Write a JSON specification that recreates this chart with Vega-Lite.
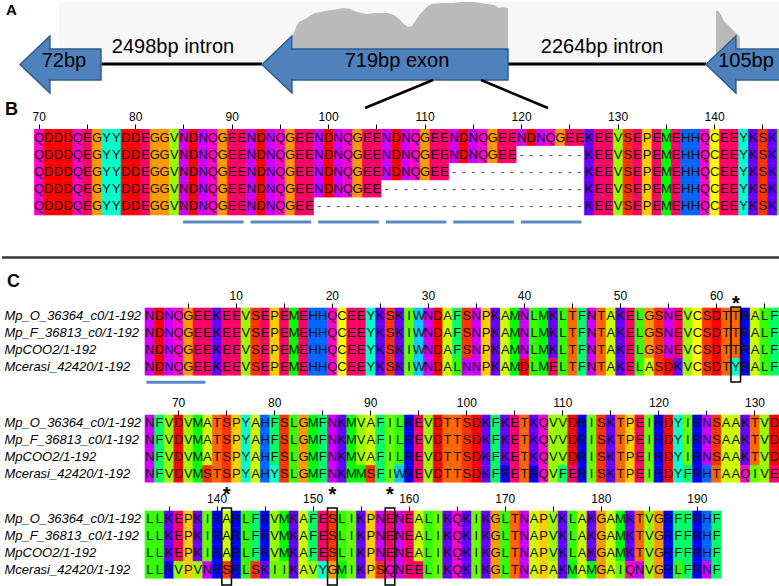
{
"$schema":"https://vega.github.io/schema/vega-lite/v6.json",
"padding":0,"spacing":0,"bounds":"flush","background":"white",
"config":{"view":{"stroke":null},"font":"Liberation Sans"},
"datasets":{
"names":[{"q":1,"name":"Mp_O_36364_c0/1-192"},{"q":2,"name":"Mp_F_36813_c0/1-192"},{"q":3,"name":"MpCOO2/1-192"},{"q":4,"name":"Mcerasi_42420/1-192"}],
"hl":[{"p":62},{"p":141},{"p":152},{"p":158}],
"bl":[{"start":85,"end":91},{"start":92,"end":98},{"start":99,"end":105},{"start":106,"end":112},{"start":113,"end":119},{"start":120,"end":126}],
"cov":[{"seg":"L","x":291,"d":29},{"seg":"L","x":294,"d":37},{"seg":"L","x":297,"d":42},{"seg":"L","x":301,"d":44},{"seg":"L","x":305,"d":46},{"seg":"L","x":309,"d":49},{"seg":"L","x":313,"d":51},{"seg":"L","x":318,"d":52},{"seg":"L","x":323,"d":53},{"seg":"L","x":330,"d":54},{"seg":"L","x":336,"d":55},{"seg":"L","x":342,"d":56},{"seg":"L","x":348,"d":55},{"seg":"L","x":355,"d":52},{"seg":"L","x":360,"d":51},{"seg":"L","x":365,"d":50},{"seg":"L","x":372,"d":51},{"seg":"L","x":380,"d":51},{"seg":"L","x":386,"d":51},{"seg":"L","x":392,"d":49},{"seg":"L","x":397,"d":45},{"seg":"L","x":402,"d":40},{"seg":"L","x":406,"d":37},{"seg":"L","x":410,"d":38},{"seg":"L","x":414,"d":44},{"seg":"L","x":418,"d":50},{"seg":"L","x":422,"d":54},{"seg":"L","x":426,"d":58},{"seg":"L","x":430,"d":60},{"seg":"L","x":440,"d":61},{"seg":"L","x":450,"d":61},{"seg":"L","x":460,"d":62},{"seg":"L","x":470,"d":62},{"seg":"L","x":478,"d":61},{"seg":"L","x":486,"d":60},{"seg":"L","x":492,"d":59},{"seg":"L","x":497,"d":56},{"seg":"L","x":501,"d":57},{"seg":"L","x":506,"d":56},
{"seg":"R","x":714,"d":54},{"seg":"R","x":716,"d":53},{"seg":"R","x":719,"d":49},{"seg":"R","x":722,"d":43},{"seg":"R","x":726,"d":39},{"seg":"R","x":730,"d":35},{"seg":"R","x":734,"d":31},{"seg":"R","x":738,"d":27}],
"exons":[{"name":"72bp","tip":18,"neck":47,"end":99,"mid":62},{"name":"719bp exon","tip":260,"neck":290,"end":506,"mid":395},{"name":"105bp","tip":704,"neck":735,"end":800,"mid":744}],
"introns":[{"name":"2498bp intron","from":99,"to":260,"mid":171},{"name":"2264bp intron","from":506,"to":704,"mid":600}],
"links":[{"x1":431,"x2":363},{"x1":479,"x2":546}],
"b":[
{"s":1,"p":70,"a":"Q"},{"s":1,"p":71,"a":"D"},{"s":1,"p":72,"a":"D"},{"s":1,"p":73,"a":"D"},{"s":1,"p":74,"a":"Q"},{"s":1,"p":75,"a":"E"},{"s":1,"p":76,"a":"G"},{"s":1,"p":77,"a":"Y"},{"s":1,"p":78,"a":"Y"},{"s":1,"p":79,"a":"D"},{"s":1,"p":80,"a":"D"},{"s":1,"p":81,"a":"E"},{"s":1,"p":82,"a":"G"},{"s":1,"p":83,"a":"G"},{"s":1,"p":84,"a":"V"},{"s":1,"p":85,"a":"N"},{"s":1,"p":86,"a":"D"},{"s":1,"p":87,"a":"N"},{"s":1,"p":88,"a":"Q"},{"s":1,"p":89,"a":"G"},{"s":1,"p":90,"a":"E"},{"s":1,"p":91,"a":"E"},{"s":1,"p":92,"a":"N"},{"s":1,"p":93,"a":"D"},{"s":1,"p":94,"a":"N"},{"s":1,"p":95,"a":"Q"},{"s":1,"p":96,"a":"G"},{"s":1,"p":97,"a":"E"},{"s":1,"p":98,"a":"E"},{"s":1,"p":99,"a":"N"},{"s":1,"p":100,"a":"D"},{"s":1,"p":101,"a":"N"},{"s":1,"p":102,"a":"Q"},{"s":1,"p":103,"a":"G"},{"s":1,"p":104,"a":"E"},{"s":1,"p":105,"a":"E"},{"s":1,"p":106,"a":"N"},{"s":1,"p":107,"a":"D"},{"s":1,"p":108,"a":"N"},{"s":1,"p":109,"a":"Q"},{"s":1,"p":110,"a":"G"},{"s":1,"p":111,"a":"E"},{"s":1,"p":112,"a":"E"},{"s":1,"p":113,"a":"N"},{"s":1,"p":114,"a":"D"},{"s":1,"p":115,"a":"N"},{"s":1,"p":116,"a":"Q"},{"s":1,"p":117,"a":"G"},{"s":1,"p":118,"a":"E"},{"s":1,"p":119,"a":"E"},{"s":1,"p":120,"a":"N"},{"s":1,"p":121,"a":"D"},{"s":1,"p":122,"a":"N"},{"s":1,"p":123,"a":"Q"},{"s":1,"p":124,"a":"G"},{"s":1,"p":125,"a":"E"},{"s":1,"p":126,"a":"E"},{"s":1,"p":127,"a":"K"},{"s":1,"p":128,"a":"E"},{"s":1,"p":129,"a":"E"},{"s":1,"p":130,"a":"V"},{"s":1,"p":131,"a":"S"},{"s":1,"p":132,"a":"E"},{"s":1,"p":133,"a":"P"},{"s":1,"p":134,"a":"E"},{"s":1,"p":135,"a":"M"},{"s":1,"p":136,"a":"E"},{"s":1,"p":137,"a":"H"},{"s":1,"p":138,"a":"H"},{"s":1,"p":139,"a":"Q"},{"s":1,"p":140,"a":"C"},{"s":1,"p":141,"a":"E"},{"s":1,"p":142,"a":"E"},{"s":1,"p":143,"a":"Y"},{"s":1,"p":144,"a":"K"},{"s":1,"p":145,"a":"S"},{"s":1,"p":146,"a":"K"},{"s":1,"p":147,"a":"I"},
{"s":2,"p":70,"a":"Q"},{"s":2,"p":71,"a":"D"},{"s":2,"p":72,"a":"D"},{"s":2,"p":73,"a":"D"},{"s":2,"p":74,"a":"Q"},{"s":2,"p":75,"a":"E"},{"s":2,"p":76,"a":"G"},{"s":2,"p":77,"a":"Y"},{"s":2,"p":78,"a":"Y"},{"s":2,"p":79,"a":"D"},{"s":2,"p":80,"a":"D"},{"s":2,"p":81,"a":"E"},{"s":2,"p":82,"a":"G"},{"s":2,"p":83,"a":"G"},{"s":2,"p":84,"a":"V"},{"s":2,"p":85,"a":"N"},{"s":2,"p":86,"a":"D"},{"s":2,"p":87,"a":"N"},{"s":2,"p":88,"a":"Q"},{"s":2,"p":89,"a":"G"},{"s":2,"p":90,"a":"E"},{"s":2,"p":91,"a":"E"},{"s":2,"p":92,"a":"N"},{"s":2,"p":93,"a":"D"},{"s":2,"p":94,"a":"N"},{"s":2,"p":95,"a":"Q"},{"s":2,"p":96,"a":"G"},{"s":2,"p":97,"a":"E"},{"s":2,"p":98,"a":"E"},{"s":2,"p":99,"a":"N"},{"s":2,"p":100,"a":"D"},{"s":2,"p":101,"a":"N"},{"s":2,"p":102,"a":"Q"},{"s":2,"p":103,"a":"G"},{"s":2,"p":104,"a":"E"},{"s":2,"p":105,"a":"E"},{"s":2,"p":106,"a":"N"},{"s":2,"p":107,"a":"D"},{"s":2,"p":108,"a":"N"},{"s":2,"p":109,"a":"Q"},{"s":2,"p":110,"a":"G"},{"s":2,"p":111,"a":"E"},{"s":2,"p":112,"a":"E"},{"s":2,"p":113,"a":"N"},{"s":2,"p":114,"a":"D"},{"s":2,"p":115,"a":"N"},{"s":2,"p":116,"a":"Q"},{"s":2,"p":117,"a":"G"},{"s":2,"p":118,"a":"E"},{"s":2,"p":119,"a":"E"},{"s":2,"p":120,"a":"-"},{"s":2,"p":121,"a":"-"},{"s":2,"p":122,"a":"-"},{"s":2,"p":123,"a":"-"},{"s":2,"p":124,"a":"-"},{"s":2,"p":125,"a":"-"},{"s":2,"p":126,"a":"-"},{"s":2,"p":127,"a":"K"},{"s":2,"p":128,"a":"E"},{"s":2,"p":129,"a":"E"},{"s":2,"p":130,"a":"V"},{"s":2,"p":131,"a":"S"},{"s":2,"p":132,"a":"E"},{"s":2,"p":133,"a":"P"},{"s":2,"p":134,"a":"E"},{"s":2,"p":135,"a":"M"},{"s":2,"p":136,"a":"E"},{"s":2,"p":137,"a":"H"},{"s":2,"p":138,"a":"H"},{"s":2,"p":139,"a":"Q"},{"s":2,"p":140,"a":"C"},{"s":2,"p":141,"a":"E"},{"s":2,"p":142,"a":"E"},{"s":2,"p":143,"a":"Y"},{"s":2,"p":144,"a":"K"},{"s":2,"p":145,"a":"S"},{"s":2,"p":146,"a":"K"},{"s":2,"p":147,"a":"I"},
{"s":3,"p":70,"a":"Q"},{"s":3,"p":71,"a":"D"},{"s":3,"p":72,"a":"D"},{"s":3,"p":73,"a":"D"},{"s":3,"p":74,"a":"Q"},{"s":3,"p":75,"a":"E"},{"s":3,"p":76,"a":"G"},{"s":3,"p":77,"a":"Y"},{"s":3,"p":78,"a":"Y"},{"s":3,"p":79,"a":"D"},{"s":3,"p":80,"a":"D"},{"s":3,"p":81,"a":"E"},{"s":3,"p":82,"a":"G"},{"s":3,"p":83,"a":"G"},{"s":3,"p":84,"a":"V"},{"s":3,"p":85,"a":"N"},{"s":3,"p":86,"a":"D"},{"s":3,"p":87,"a":"N"},{"s":3,"p":88,"a":"Q"},{"s":3,"p":89,"a":"G"},{"s":3,"p":90,"a":"E"},{"s":3,"p":91,"a":"E"},{"s":3,"p":92,"a":"N"},{"s":3,"p":93,"a":"D"},{"s":3,"p":94,"a":"N"},{"s":3,"p":95,"a":"Q"},{"s":3,"p":96,"a":"G"},{"s":3,"p":97,"a":"E"},{"s":3,"p":98,"a":"E"},{"s":3,"p":99,"a":"N"},{"s":3,"p":100,"a":"D"},{"s":3,"p":101,"a":"N"},{"s":3,"p":102,"a":"Q"},{"s":3,"p":103,"a":"G"},{"s":3,"p":104,"a":"E"},{"s":3,"p":105,"a":"E"},{"s":3,"p":106,"a":"N"},{"s":3,"p":107,"a":"D"},{"s":3,"p":108,"a":"N"},{"s":3,"p":109,"a":"Q"},{"s":3,"p":110,"a":"G"},{"s":3,"p":111,"a":"E"},{"s":3,"p":112,"a":"E"},{"s":3,"p":113,"a":"-"},{"s":3,"p":114,"a":"-"},{"s":3,"p":115,"a":"-"},{"s":3,"p":116,"a":"-"},{"s":3,"p":117,"a":"-"},{"s":3,"p":118,"a":"-"},{"s":3,"p":119,"a":"-"},{"s":3,"p":120,"a":"-"},{"s":3,"p":121,"a":"-"},{"s":3,"p":122,"a":"-"},{"s":3,"p":123,"a":"-"},{"s":3,"p":124,"a":"-"},{"s":3,"p":125,"a":"-"},{"s":3,"p":126,"a":"-"},{"s":3,"p":127,"a":"K"},{"s":3,"p":128,"a":"E"},{"s":3,"p":129,"a":"E"},{"s":3,"p":130,"a":"V"},{"s":3,"p":131,"a":"S"},{"s":3,"p":132,"a":"E"},{"s":3,"p":133,"a":"P"},{"s":3,"p":134,"a":"E"},{"s":3,"p":135,"a":"M"},{"s":3,"p":136,"a":"E"},{"s":3,"p":137,"a":"H"},{"s":3,"p":138,"a":"H"},{"s":3,"p":139,"a":"Q"},{"s":3,"p":140,"a":"C"},{"s":3,"p":141,"a":"E"},{"s":3,"p":142,"a":"E"},{"s":3,"p":143,"a":"Y"},{"s":3,"p":144,"a":"K"},{"s":3,"p":145,"a":"S"},{"s":3,"p":146,"a":"K"},{"s":3,"p":147,"a":"I"},
{"s":4,"p":70,"a":"Q"},{"s":4,"p":71,"a":"D"},{"s":4,"p":72,"a":"D"},{"s":4,"p":73,"a":"D"},{"s":4,"p":74,"a":"Q"},{"s":4,"p":75,"a":"E"},{"s":4,"p":76,"a":"G"},{"s":4,"p":77,"a":"Y"},{"s":4,"p":78,"a":"Y"},{"s":4,"p":79,"a":"D"},{"s":4,"p":80,"a":"D"},{"s":4,"p":81,"a":"E"},{"s":4,"p":82,"a":"G"},{"s":4,"p":83,"a":"G"},{"s":4,"p":84,"a":"V"},{"s":4,"p":85,"a":"N"},{"s":4,"p":86,"a":"D"},{"s":4,"p":87,"a":"N"},{"s":4,"p":88,"a":"Q"},{"s":4,"p":89,"a":"G"},{"s":4,"p":90,"a":"E"},{"s":4,"p":91,"a":"E"},{"s":4,"p":92,"a":"N"},{"s":4,"p":93,"a":"D"},{"s":4,"p":94,"a":"N"},{"s":4,"p":95,"a":"Q"},{"s":4,"p":96,"a":"G"},{"s":4,"p":97,"a":"E"},{"s":4,"p":98,"a":"E"},{"s":4,"p":99,"a":"N"},{"s":4,"p":100,"a":"D"},{"s":4,"p":101,"a":"N"},{"s":4,"p":102,"a":"Q"},{"s":4,"p":103,"a":"G"},{"s":4,"p":104,"a":"E"},{"s":4,"p":105,"a":"E"},{"s":4,"p":106,"a":"-"},{"s":4,"p":107,"a":"-"},{"s":4,"p":108,"a":"-"},{"s":4,"p":109,"a":"-"},{"s":4,"p":110,"a":"-"},{"s":4,"p":111,"a":"-"},{"s":4,"p":112,"a":"-"},{"s":4,"p":113,"a":"-"},{"s":4,"p":114,"a":"-"},{"s":4,"p":115,"a":"-"},{"s":4,"p":116,"a":"-"},{"s":4,"p":117,"a":"-"},{"s":4,"p":118,"a":"-"},{"s":4,"p":119,"a":"-"},{"s":4,"p":120,"a":"-"},{"s":4,"p":121,"a":"-"},{"s":4,"p":122,"a":"-"},{"s":4,"p":123,"a":"-"},{"s":4,"p":124,"a":"-"},{"s":4,"p":125,"a":"-"},{"s":4,"p":126,"a":"-"},{"s":4,"p":127,"a":"K"},{"s":4,"p":128,"a":"E"},{"s":4,"p":129,"a":"E"},{"s":4,"p":130,"a":"V"},{"s":4,"p":131,"a":"S"},{"s":4,"p":132,"a":"E"},{"s":4,"p":133,"a":"P"},{"s":4,"p":134,"a":"E"},{"s":4,"p":135,"a":"M"},{"s":4,"p":136,"a":"E"},{"s":4,"p":137,"a":"H"},{"s":4,"p":138,"a":"H"},{"s":4,"p":139,"a":"Q"},{"s":4,"p":140,"a":"C"},{"s":4,"p":141,"a":"E"},{"s":4,"p":142,"a":"E"},{"s":4,"p":143,"a":"Y"},{"s":4,"p":144,"a":"K"},{"s":4,"p":145,"a":"S"},{"s":4,"p":146,"a":"K"},{"s":4,"p":147,"a":"I"},
{"s":5,"p":70,"a":"Q"},{"s":5,"p":71,"a":"D"},{"s":5,"p":72,"a":"D"},{"s":5,"p":73,"a":"D"},{"s":5,"p":74,"a":"Q"},{"s":5,"p":75,"a":"E"},{"s":5,"p":76,"a":"G"},{"s":5,"p":77,"a":"Y"},{"s":5,"p":78,"a":"Y"},{"s":5,"p":79,"a":"D"},{"s":5,"p":80,"a":"D"},{"s":5,"p":81,"a":"E"},{"s":5,"p":82,"a":"G"},{"s":5,"p":83,"a":"G"},{"s":5,"p":84,"a":"V"},{"s":5,"p":85,"a":"N"},{"s":5,"p":86,"a":"D"},{"s":5,"p":87,"a":"N"},{"s":5,"p":88,"a":"Q"},{"s":5,"p":89,"a":"G"},{"s":5,"p":90,"a":"E"},{"s":5,"p":91,"a":"E"},{"s":5,"p":92,"a":"N"},{"s":5,"p":93,"a":"D"},{"s":5,"p":94,"a":"N"},{"s":5,"p":95,"a":"Q"},{"s":5,"p":96,"a":"G"},{"s":5,"p":97,"a":"E"},{"s":5,"p":98,"a":"E"},{"s":5,"p":99,"a":"-"},{"s":5,"p":100,"a":"-"},{"s":5,"p":101,"a":"-"},{"s":5,"p":102,"a":"-"},{"s":5,"p":103,"a":"-"},{"s":5,"p":104,"a":"-"},{"s":5,"p":105,"a":"-"},{"s":5,"p":106,"a":"-"},{"s":5,"p":107,"a":"-"},{"s":5,"p":108,"a":"-"},{"s":5,"p":109,"a":"-"},{"s":5,"p":110,"a":"-"},{"s":5,"p":111,"a":"-"},{"s":5,"p":112,"a":"-"},{"s":5,"p":113,"a":"-"},{"s":5,"p":114,"a":"-"},{"s":5,"p":115,"a":"-"},{"s":5,"p":116,"a":"-"},{"s":5,"p":117,"a":"-"},{"s":5,"p":118,"a":"-"},{"s":5,"p":119,"a":"-"},{"s":5,"p":120,"a":"-"},{"s":5,"p":121,"a":"-"},{"s":5,"p":122,"a":"-"},{"s":5,"p":123,"a":"-"},{"s":5,"p":124,"a":"-"},{"s":5,"p":125,"a":"-"},{"s":5,"p":126,"a":"-"},{"s":5,"p":127,"a":"K"},{"s":5,"p":128,"a":"E"},{"s":5,"p":129,"a":"E"},{"s":5,"p":130,"a":"V"},{"s":5,"p":131,"a":"S"},{"s":5,"p":132,"a":"E"},{"s":5,"p":133,"a":"P"},{"s":5,"p":134,"a":"E"},{"s":5,"p":135,"a":"M"},{"s":5,"p":136,"a":"E"},{"s":5,"p":137,"a":"H"},{"s":5,"p":138,"a":"H"},{"s":5,"p":139,"a":"Q"},{"s":5,"p":140,"a":"C"},{"s":5,"p":141,"a":"E"},{"s":5,"p":142,"a":"E"},{"s":5,"p":143,"a":"Y"},{"s":5,"p":144,"a":"K"},{"s":5,"p":145,"a":"S"},{"s":5,"p":146,"a":"K"},{"s":5,"p":147,"a":"I"}
],
"c":[
{"q":1,"p":1,"a":"N"},{"q":1,"p":2,"a":"D"},{"q":1,"p":3,"a":"N"},{"q":1,"p":4,"a":"Q"},{"q":1,"p":5,"a":"G"},{"q":1,"p":6,"a":"E"},{"q":1,"p":7,"a":"E"},{"q":1,"p":8,"a":"K"},{"q":1,"p":9,"a":"E"},{"q":1,"p":10,"a":"E"},{"q":1,"p":11,"a":"V"},{"q":1,"p":12,"a":"S"},{"q":1,"p":13,"a":"E"},{"q":1,"p":14,"a":"P"},{"q":1,"p":15,"a":"E"},{"q":1,"p":16,"a":"M"},{"q":1,"p":17,"a":"E"},{"q":1,"p":18,"a":"H"},{"q":1,"p":19,"a":"H"},{"q":1,"p":20,"a":"Q"},{"q":1,"p":21,"a":"C"},{"q":1,"p":22,"a":"E"},{"q":1,"p":23,"a":"E"},{"q":1,"p":24,"a":"Y"},{"q":1,"p":25,"a":"K"},{"q":1,"p":26,"a":"S"},{"q":1,"p":27,"a":"K"},{"q":1,"p":28,"a":"I"},{"q":1,"p":29,"a":"W"},{"q":1,"p":30,"a":"N"},{"q":1,"p":31,"a":"D"},{"q":1,"p":32,"a":"A"},{"q":1,"p":33,"a":"F"},{"q":1,"p":34,"a":"S"},{"q":1,"p":35,"a":"N"},{"q":1,"p":36,"a":"P"},{"q":1,"p":37,"a":"K"},{"q":1,"p":38,"a":"A"},{"q":1,"p":39,"a":"M"},{"q":1,"p":40,"a":"N"},{"q":1,"p":41,"a":"L"},{"q":1,"p":42,"a":"M"},{"q":1,"p":43,"a":"K"},{"q":1,"p":44,"a":"L"},{"q":1,"p":45,"a":"T"},{"q":1,"p":46,"a":"F"},{"q":1,"p":47,"a":"N"},{"q":1,"p":48,"a":"T"},{"q":1,"p":49,"a":"A"},{"q":1,"p":50,"a":"K"},{"q":1,"p":51,"a":"E"},{"q":1,"p":52,"a":"L"},{"q":1,"p":53,"a":"G"},{"q":1,"p":54,"a":"S"},{"q":1,"p":55,"a":"N"},{"q":1,"p":56,"a":"E"},{"q":1,"p":57,"a":"V"},{"q":1,"p":58,"a":"C"},{"q":1,"p":59,"a":"S"},{"q":1,"p":60,"a":"D"},{"q":1,"p":61,"a":"T"},{"q":1,"p":62,"a":"T"},{"q":1,"p":63,"a":"R"},{"q":1,"p":64,"a":"A"},{"q":1,"p":65,"a":"L"},{"q":1,"p":66,"a":"F"},{"q":1,"p":67,"a":"N"},{"q":1,"p":68,"a":"F"},{"q":1,"p":69,"a":"V"},{"q":1,"p":70,"a":"D"},{"q":1,"p":71,"a":"V"},{"q":1,"p":72,"a":"M"},{"q":1,"p":73,"a":"A"},{"q":1,"p":74,"a":"T"},{"q":1,"p":75,"a":"S"},{"q":1,"p":76,"a":"P"},{"q":1,"p":77,"a":"Y"},{"q":1,"p":78,"a":"A"},{"q":1,"p":79,"a":"H"},{"q":1,"p":80,"a":"F"},{"q":1,"p":81,"a":"S"},{"q":1,"p":82,"a":"L"},{"q":1,"p":83,"a":"G"},{"q":1,"p":84,"a":"M"},{"q":1,"p":85,"a":"F"},{"q":1,"p":86,"a":"N"},{"q":1,"p":87,"a":"K"},{"q":1,"p":88,"a":"M"},{"q":1,"p":89,"a":"V"},{"q":1,"p":90,"a":"A"},{"q":1,"p":91,"a":"F"},{"q":1,"p":92,"a":"I"},{"q":1,"p":93,"a":"L"},{"q":1,"p":94,"a":"R"},{"q":1,"p":95,"a":"E"},{"q":1,"p":96,"a":"V"},{"q":1,"p":97,"a":"D"},{"q":1,"p":98,"a":"T"},{"q":1,"p":99,"a":"T"},{"q":1,"p":100,"a":"S"},{"q":1,"p":101,"a":"D"},{"q":1,"p":102,"a":"K"},{"q":1,"p":103,"a":"F"},{"q":1,"p":104,"a":"K"},{"q":1,"p":105,"a":"E"},{"q":1,"p":106,"a":"T"},{"q":1,"p":107,"a":"K"},{"q":1,"p":108,"a":"Q"},{"q":1,"p":109,"a":"V"},{"q":1,"p":110,"a":"V"},{"q":1,"p":111,"a":"D"},{"q":1,"p":112,"a":"R"},{"q":1,"p":113,"a":"I"},{"q":1,"p":114,"a":"S"},{"q":1,"p":115,"a":"K"},{"q":1,"p":116,"a":"T"},{"q":1,"p":117,"a":"P"},{"q":1,"p":118,"a":"E"},{"q":1,"p":119,"a":"I"},{"q":1,"p":120,"a":"R"},{"q":1,"p":121,"a":"D"},{"q":1,"p":122,"a":"Y"},{"q":1,"p":123,"a":"I"},{"q":1,"p":124,"a":"R"},{"q":1,"p":125,"a":"N"},{"q":1,"p":126,"a":"S"},{"q":1,"p":127,"a":"A"},{"q":1,"p":128,"a":"A"},{"q":1,"p":129,"a":"K"},{"q":1,"p":130,"a":"T"},{"q":1,"p":131,"a":"V"},{"q":1,"p":132,"a":"D"},{"q":1,"p":133,"a":"L"},{"q":1,"p":134,"a":"L"},{"q":1,"p":135,"a":"K"},{"q":1,"p":136,"a":"E"},{"q":1,"p":137,"a":"P"},{"q":1,"p":138,"a":"K"},{"q":1,"p":139,"a":"I"},{"q":1,"p":140,"a":"R"},{"q":1,"p":141,"a":"A"},{"q":1,"p":142,"a":"R"},{"q":1,"p":143,"a":"L"},{"q":1,"p":144,"a":"F"},{"q":1,"p":145,"a":"R"},{"q":1,"p":146,"a":"V"},{"q":1,"p":147,"a":"M"},{"q":1,"p":148,"a":"K"},{"q":1,"p":149,"a":"A"},{"q":1,"p":150,"a":"F"},{"q":1,"p":151,"a":"E"},{"q":1,"p":152,"a":"S"},{"q":1,"p":153,"a":"L"},{"q":1,"p":154,"a":"I"},{"q":1,"p":155,"a":"K"},{"q":1,"p":156,"a":"P"},{"q":1,"p":157,"a":"N"},{"q":1,"p":158,"a":"E"},{"q":1,"p":159,"a":"N"},{"q":1,"p":160,"a":"E"},{"q":1,"p":161,"a":"A"},{"q":1,"p":162,"a":"L"},{"q":1,"p":163,"a":"I"},{"q":1,"p":164,"a":"K"},{"q":1,"p":165,"a":"Q"},{"q":1,"p":166,"a":"K"},{"q":1,"p":167,"a":"I"},{"q":1,"p":168,"a":"K"},{"q":1,"p":169,"a":"G"},{"q":1,"p":170,"a":"L"},{"q":1,"p":171,"a":"T"},{"q":1,"p":172,"a":"N"},{"q":1,"p":173,"a":"A"},{"q":1,"p":174,"a":"P"},{"q":1,"p":175,"a":"V"},{"q":1,"p":176,"a":"K"},{"q":1,"p":177,"a":"L"},{"q":1,"p":178,"a":"A"},{"q":1,"p":179,"a":"K"},{"q":1,"p":180,"a":"G"},{"q":1,"p":181,"a":"A"},{"q":1,"p":182,"a":"M"},{"q":1,"p":183,"a":"K"},{"q":1,"p":184,"a":"T"},{"q":1,"p":185,"a":"V"},{"q":1,"p":186,"a":"G"},{"q":1,"p":187,"a":"R"},{"q":1,"p":188,"a":"F"},{"q":1,"p":189,"a":"F"},{"q":1,"p":190,"a":"R"},{"q":1,"p":191,"a":"H"},{"q":1,"p":192,"a":"F"},
{"q":2,"p":1,"a":"N"},{"q":2,"p":2,"a":"D"},{"q":2,"p":3,"a":"N"},{"q":2,"p":4,"a":"Q"},{"q":2,"p":5,"a":"G"},{"q":2,"p":6,"a":"E"},{"q":2,"p":7,"a":"E"},{"q":2,"p":8,"a":"K"},{"q":2,"p":9,"a":"E"},{"q":2,"p":10,"a":"E"},{"q":2,"p":11,"a":"V"},{"q":2,"p":12,"a":"S"},{"q":2,"p":13,"a":"E"},{"q":2,"p":14,"a":"P"},{"q":2,"p":15,"a":"E"},{"q":2,"p":16,"a":"M"},{"q":2,"p":17,"a":"E"},{"q":2,"p":18,"a":"H"},{"q":2,"p":19,"a":"H"},{"q":2,"p":20,"a":"Q"},{"q":2,"p":21,"a":"C"},{"q":2,"p":22,"a":"E"},{"q":2,"p":23,"a":"E"},{"q":2,"p":24,"a":"Y"},{"q":2,"p":25,"a":"K"},{"q":2,"p":26,"a":"S"},{"q":2,"p":27,"a":"K"},{"q":2,"p":28,"a":"I"},{"q":2,"p":29,"a":"W"},{"q":2,"p":30,"a":"N"},{"q":2,"p":31,"a":"D"},{"q":2,"p":32,"a":"A"},{"q":2,"p":33,"a":"F"},{"q":2,"p":34,"a":"S"},{"q":2,"p":35,"a":"N"},{"q":2,"p":36,"a":"P"},{"q":2,"p":37,"a":"K"},{"q":2,"p":38,"a":"A"},{"q":2,"p":39,"a":"M"},{"q":2,"p":40,"a":"N"},{"q":2,"p":41,"a":"L"},{"q":2,"p":42,"a":"M"},{"q":2,"p":43,"a":"K"},{"q":2,"p":44,"a":"L"},{"q":2,"p":45,"a":"T"},{"q":2,"p":46,"a":"F"},{"q":2,"p":47,"a":"N"},{"q":2,"p":48,"a":"T"},{"q":2,"p":49,"a":"A"},{"q":2,"p":50,"a":"K"},{"q":2,"p":51,"a":"E"},{"q":2,"p":52,"a":"L"},{"q":2,"p":53,"a":"G"},{"q":2,"p":54,"a":"S"},{"q":2,"p":55,"a":"N"},{"q":2,"p":56,"a":"E"},{"q":2,"p":57,"a":"V"},{"q":2,"p":58,"a":"C"},{"q":2,"p":59,"a":"S"},{"q":2,"p":60,"a":"D"},{"q":2,"p":61,"a":"T"},{"q":2,"p":62,"a":"T"},{"q":2,"p":63,"a":"R"},{"q":2,"p":64,"a":"A"},{"q":2,"p":65,"a":"L"},{"q":2,"p":66,"a":"F"},{"q":2,"p":67,"a":"N"},{"q":2,"p":68,"a":"F"},{"q":2,"p":69,"a":"V"},{"q":2,"p":70,"a":"D"},{"q":2,"p":71,"a":"V"},{"q":2,"p":72,"a":"M"},{"q":2,"p":73,"a":"A"},{"q":2,"p":74,"a":"T"},{"q":2,"p":75,"a":"S"},{"q":2,"p":76,"a":"P"},{"q":2,"p":77,"a":"Y"},{"q":2,"p":78,"a":"A"},{"q":2,"p":79,"a":"H"},{"q":2,"p":80,"a":"F"},{"q":2,"p":81,"a":"S"},{"q":2,"p":82,"a":"L"},{"q":2,"p":83,"a":"G"},{"q":2,"p":84,"a":"M"},{"q":2,"p":85,"a":"F"},{"q":2,"p":86,"a":"N"},{"q":2,"p":87,"a":"K"},{"q":2,"p":88,"a":"M"},{"q":2,"p":89,"a":"V"},{"q":2,"p":90,"a":"A"},{"q":2,"p":91,"a":"F"},{"q":2,"p":92,"a":"I"},{"q":2,"p":93,"a":"L"},{"q":2,"p":94,"a":"R"},{"q":2,"p":95,"a":"E"},{"q":2,"p":96,"a":"V"},{"q":2,"p":97,"a":"D"},{"q":2,"p":98,"a":"T"},{"q":2,"p":99,"a":"T"},{"q":2,"p":100,"a":"S"},{"q":2,"p":101,"a":"D"},{"q":2,"p":102,"a":"K"},{"q":2,"p":103,"a":"F"},{"q":2,"p":104,"a":"K"},{"q":2,"p":105,"a":"E"},{"q":2,"p":106,"a":"T"},{"q":2,"p":107,"a":"K"},{"q":2,"p":108,"a":"Q"},{"q":2,"p":109,"a":"V"},{"q":2,"p":110,"a":"V"},{"q":2,"p":111,"a":"D"},{"q":2,"p":112,"a":"R"},{"q":2,"p":113,"a":"I"},{"q":2,"p":114,"a":"S"},{"q":2,"p":115,"a":"K"},{"q":2,"p":116,"a":"T"},{"q":2,"p":117,"a":"P"},{"q":2,"p":118,"a":"E"},{"q":2,"p":119,"a":"I"},{"q":2,"p":120,"a":"R"},{"q":2,"p":121,"a":"D"},{"q":2,"p":122,"a":"Y"},{"q":2,"p":123,"a":"I"},{"q":2,"p":124,"a":"R"},{"q":2,"p":125,"a":"N"},{"q":2,"p":126,"a":"S"},{"q":2,"p":127,"a":"A"},{"q":2,"p":128,"a":"A"},{"q":2,"p":129,"a":"K"},{"q":2,"p":130,"a":"T"},{"q":2,"p":131,"a":"V"},{"q":2,"p":132,"a":"D"},{"q":2,"p":133,"a":"L"},{"q":2,"p":134,"a":"L"},{"q":2,"p":135,"a":"K"},{"q":2,"p":136,"a":"E"},{"q":2,"p":137,"a":"P"},{"q":2,"p":138,"a":"K"},{"q":2,"p":139,"a":"I"},{"q":2,"p":140,"a":"R"},{"q":2,"p":141,"a":"A"},{"q":2,"p":142,"a":"R"},{"q":2,"p":143,"a":"L"},{"q":2,"p":144,"a":"F"},{"q":2,"p":145,"a":"R"},{"q":2,"p":146,"a":"V"},{"q":2,"p":147,"a":"M"},{"q":2,"p":148,"a":"K"},{"q":2,"p":149,"a":"A"},{"q":2,"p":150,"a":"F"},{"q":2,"p":151,"a":"E"},{"q":2,"p":152,"a":"S"},{"q":2,"p":153,"a":"L"},{"q":2,"p":154,"a":"I"},{"q":2,"p":155,"a":"K"},{"q":2,"p":156,"a":"P"},{"q":2,"p":157,"a":"N"},{"q":2,"p":158,"a":"E"},{"q":2,"p":159,"a":"N"},{"q":2,"p":160,"a":"E"},{"q":2,"p":161,"a":"A"},{"q":2,"p":162,"a":"L"},{"q":2,"p":163,"a":"I"},{"q":2,"p":164,"a":"K"},{"q":2,"p":165,"a":"Q"},{"q":2,"p":166,"a":"K"},{"q":2,"p":167,"a":"I"},{"q":2,"p":168,"a":"K"},{"q":2,"p":169,"a":"G"},{"q":2,"p":170,"a":"L"},{"q":2,"p":171,"a":"T"},{"q":2,"p":172,"a":"N"},{"q":2,"p":173,"a":"A"},{"q":2,"p":174,"a":"P"},{"q":2,"p":175,"a":"V"},{"q":2,"p":176,"a":"K"},{"q":2,"p":177,"a":"L"},{"q":2,"p":178,"a":"A"},{"q":2,"p":179,"a":"K"},{"q":2,"p":180,"a":"G"},{"q":2,"p":181,"a":"A"},{"q":2,"p":182,"a":"M"},{"q":2,"p":183,"a":"K"},{"q":2,"p":184,"a":"T"},{"q":2,"p":185,"a":"V"},{"q":2,"p":186,"a":"G"},{"q":2,"p":187,"a":"R"},{"q":2,"p":188,"a":"F"},{"q":2,"p":189,"a":"F"},{"q":2,"p":190,"a":"R"},{"q":2,"p":191,"a":"H"},{"q":2,"p":192,"a":"F"},
{"q":3,"p":1,"a":"N"},{"q":3,"p":2,"a":"D"},{"q":3,"p":3,"a":"N"},{"q":3,"p":4,"a":"Q"},{"q":3,"p":5,"a":"G"},{"q":3,"p":6,"a":"E"},{"q":3,"p":7,"a":"E"},{"q":3,"p":8,"a":"K"},{"q":3,"p":9,"a":"E"},{"q":3,"p":10,"a":"E"},{"q":3,"p":11,"a":"V"},{"q":3,"p":12,"a":"S"},{"q":3,"p":13,"a":"E"},{"q":3,"p":14,"a":"P"},{"q":3,"p":15,"a":"E"},{"q":3,"p":16,"a":"M"},{"q":3,"p":17,"a":"E"},{"q":3,"p":18,"a":"H"},{"q":3,"p":19,"a":"H"},{"q":3,"p":20,"a":"Q"},{"q":3,"p":21,"a":"C"},{"q":3,"p":22,"a":"E"},{"q":3,"p":23,"a":"E"},{"q":3,"p":24,"a":"Y"},{"q":3,"p":25,"a":"K"},{"q":3,"p":26,"a":"S"},{"q":3,"p":27,"a":"K"},{"q":3,"p":28,"a":"I"},{"q":3,"p":29,"a":"W"},{"q":3,"p":30,"a":"N"},{"q":3,"p":31,"a":"D"},{"q":3,"p":32,"a":"A"},{"q":3,"p":33,"a":"F"},{"q":3,"p":34,"a":"S"},{"q":3,"p":35,"a":"N"},{"q":3,"p":36,"a":"P"},{"q":3,"p":37,"a":"K"},{"q":3,"p":38,"a":"A"},{"q":3,"p":39,"a":"M"},{"q":3,"p":40,"a":"N"},{"q":3,"p":41,"a":"L"},{"q":3,"p":42,"a":"M"},{"q":3,"p":43,"a":"K"},{"q":3,"p":44,"a":"L"},{"q":3,"p":45,"a":"T"},{"q":3,"p":46,"a":"F"},{"q":3,"p":47,"a":"N"},{"q":3,"p":48,"a":"T"},{"q":3,"p":49,"a":"A"},{"q":3,"p":50,"a":"K"},{"q":3,"p":51,"a":"E"},{"q":3,"p":52,"a":"L"},{"q":3,"p":53,"a":"G"},{"q":3,"p":54,"a":"S"},{"q":3,"p":55,"a":"N"},{"q":3,"p":56,"a":"E"},{"q":3,"p":57,"a":"V"},{"q":3,"p":58,"a":"C"},{"q":3,"p":59,"a":"S"},{"q":3,"p":60,"a":"D"},{"q":3,"p":61,"a":"T"},{"q":3,"p":62,"a":"T"},{"q":3,"p":63,"a":"R"},{"q":3,"p":64,"a":"A"},{"q":3,"p":65,"a":"L"},{"q":3,"p":66,"a":"F"},{"q":3,"p":67,"a":"N"},{"q":3,"p":68,"a":"F"},{"q":3,"p":69,"a":"V"},{"q":3,"p":70,"a":"D"},{"q":3,"p":71,"a":"V"},{"q":3,"p":72,"a":"M"},{"q":3,"p":73,"a":"A"},{"q":3,"p":74,"a":"T"},{"q":3,"p":75,"a":"S"},{"q":3,"p":76,"a":"P"},{"q":3,"p":77,"a":"Y"},{"q":3,"p":78,"a":"A"},{"q":3,"p":79,"a":"H"},{"q":3,"p":80,"a":"F"},{"q":3,"p":81,"a":"S"},{"q":3,"p":82,"a":"L"},{"q":3,"p":83,"a":"G"},{"q":3,"p":84,"a":"M"},{"q":3,"p":85,"a":"F"},{"q":3,"p":86,"a":"N"},{"q":3,"p":87,"a":"K"},{"q":3,"p":88,"a":"M"},{"q":3,"p":89,"a":"V"},{"q":3,"p":90,"a":"A"},{"q":3,"p":91,"a":"F"},{"q":3,"p":92,"a":"I"},{"q":3,"p":93,"a":"L"},{"q":3,"p":94,"a":"R"},{"q":3,"p":95,"a":"E"},{"q":3,"p":96,"a":"V"},{"q":3,"p":97,"a":"D"},{"q":3,"p":98,"a":"T"},{"q":3,"p":99,"a":"T"},{"q":3,"p":100,"a":"S"},{"q":3,"p":101,"a":"D"},{"q":3,"p":102,"a":"K"},{"q":3,"p":103,"a":"F"},{"q":3,"p":104,"a":"K"},{"q":3,"p":105,"a":"E"},{"q":3,"p":106,"a":"T"},{"q":3,"p":107,"a":"K"},{"q":3,"p":108,"a":"Q"},{"q":3,"p":109,"a":"V"},{"q":3,"p":110,"a":"V"},{"q":3,"p":111,"a":"D"},{"q":3,"p":112,"a":"R"},{"q":3,"p":113,"a":"I"},{"q":3,"p":114,"a":"S"},{"q":3,"p":115,"a":"K"},{"q":3,"p":116,"a":"T"},{"q":3,"p":117,"a":"P"},{"q":3,"p":118,"a":"E"},{"q":3,"p":119,"a":"I"},{"q":3,"p":120,"a":"R"},{"q":3,"p":121,"a":"D"},{"q":3,"p":122,"a":"Y"},{"q":3,"p":123,"a":"I"},{"q":3,"p":124,"a":"R"},{"q":3,"p":125,"a":"N"},{"q":3,"p":126,"a":"S"},{"q":3,"p":127,"a":"A"},{"q":3,"p":128,"a":"A"},{"q":3,"p":129,"a":"K"},{"q":3,"p":130,"a":"T"},{"q":3,"p":131,"a":"V"},{"q":3,"p":132,"a":"D"},{"q":3,"p":133,"a":"L"},{"q":3,"p":134,"a":"L"},{"q":3,"p":135,"a":"K"},{"q":3,"p":136,"a":"E"},{"q":3,"p":137,"a":"P"},{"q":3,"p":138,"a":"K"},{"q":3,"p":139,"a":"I"},{"q":3,"p":140,"a":"R"},{"q":3,"p":141,"a":"A"},{"q":3,"p":142,"a":"R"},{"q":3,"p":143,"a":"L"},{"q":3,"p":144,"a":"F"},{"q":3,"p":145,"a":"R"},{"q":3,"p":146,"a":"V"},{"q":3,"p":147,"a":"M"},{"q":3,"p":148,"a":"K"},{"q":3,"p":149,"a":"A"},{"q":3,"p":150,"a":"F"},{"q":3,"p":151,"a":"E"},{"q":3,"p":152,"a":"S"},{"q":3,"p":153,"a":"L"},{"q":3,"p":154,"a":"I"},{"q":3,"p":155,"a":"K"},{"q":3,"p":156,"a":"P"},{"q":3,"p":157,"a":"N"},{"q":3,"p":158,"a":"E"},{"q":3,"p":159,"a":"N"},{"q":3,"p":160,"a":"E"},{"q":3,"p":161,"a":"A"},{"q":3,"p":162,"a":"L"},{"q":3,"p":163,"a":"I"},{"q":3,"p":164,"a":"K"},{"q":3,"p":165,"a":"Q"},{"q":3,"p":166,"a":"K"},{"q":3,"p":167,"a":"I"},{"q":3,"p":168,"a":"K"},{"q":3,"p":169,"a":"G"},{"q":3,"p":170,"a":"L"},{"q":3,"p":171,"a":"T"},{"q":3,"p":172,"a":"N"},{"q":3,"p":173,"a":"A"},{"q":3,"p":174,"a":"P"},{"q":3,"p":175,"a":"V"},{"q":3,"p":176,"a":"K"},{"q":3,"p":177,"a":"L"},{"q":3,"p":178,"a":"A"},{"q":3,"p":179,"a":"K"},{"q":3,"p":180,"a":"G"},{"q":3,"p":181,"a":"A"},{"q":3,"p":182,"a":"M"},{"q":3,"p":183,"a":"K"},{"q":3,"p":184,"a":"T"},{"q":3,"p":185,"a":"V"},{"q":3,"p":186,"a":"G"},{"q":3,"p":187,"a":"R"},{"q":3,"p":188,"a":"F"},{"q":3,"p":189,"a":"F"},{"q":3,"p":190,"a":"R"},{"q":3,"p":191,"a":"H"},{"q":3,"p":192,"a":"F"},
{"q":4,"p":1,"a":"N"},{"q":4,"p":2,"a":"D"},{"q":4,"p":3,"a":"N"},{"q":4,"p":4,"a":"Q"},{"q":4,"p":5,"a":"G"},{"q":4,"p":6,"a":"E"},{"q":4,"p":7,"a":"E"},{"q":4,"p":8,"a":"K"},{"q":4,"p":9,"a":"E"},{"q":4,"p":10,"a":"E"},{"q":4,"p":11,"a":"V"},{"q":4,"p":12,"a":"S"},{"q":4,"p":13,"a":"E"},{"q":4,"p":14,"a":"P"},{"q":4,"p":15,"a":"E"},{"q":4,"p":16,"a":"M"},{"q":4,"p":17,"a":"E"},{"q":4,"p":18,"a":"H"},{"q":4,"p":19,"a":"H"},{"q":4,"p":20,"a":"Q"},{"q":4,"p":21,"a":"C"},{"q":4,"p":22,"a":"E"},{"q":4,"p":23,"a":"E"},{"q":4,"p":24,"a":"Y"},{"q":4,"p":25,"a":"K"},{"q":4,"p":26,"a":"S"},{"q":4,"p":27,"a":"K"},{"q":4,"p":28,"a":"I"},{"q":4,"p":29,"a":"W"},{"q":4,"p":30,"a":"N"},{"q":4,"p":31,"a":"D"},{"q":4,"p":32,"a":"A"},{"q":4,"p":33,"a":"L"},{"q":4,"p":34,"a":"N"},{"q":4,"p":35,"a":"N"},{"q":4,"p":36,"a":"P"},{"q":4,"p":37,"a":"K"},{"q":4,"p":38,"a":"A"},{"q":4,"p":39,"a":"M"},{"q":4,"p":40,"a":"D"},{"q":4,"p":41,"a":"L"},{"q":4,"p":42,"a":"M"},{"q":4,"p":43,"a":"E"},{"q":4,"p":44,"a":"L"},{"q":4,"p":45,"a":"T"},{"q":4,"p":46,"a":"F"},{"q":4,"p":47,"a":"N"},{"q":4,"p":48,"a":"T"},{"q":4,"p":49,"a":"A"},{"q":4,"p":50,"a":"K"},{"q":4,"p":51,"a":"E"},{"q":4,"p":52,"a":"L"},{"q":4,"p":53,"a":"A"},{"q":4,"p":54,"a":"S"},{"q":4,"p":55,"a":"D"},{"q":4,"p":56,"a":"K"},{"q":4,"p":57,"a":"V"},{"q":4,"p":58,"a":"C"},{"q":4,"p":59,"a":"S"},{"q":4,"p":60,"a":"D"},{"q":4,"p":61,"a":"T"},{"q":4,"p":62,"a":"Y"},{"q":4,"p":63,"a":"R"},{"q":4,"p":64,"a":"A"},{"q":4,"p":65,"a":"L"},{"q":4,"p":66,"a":"F"},{"q":4,"p":67,"a":"N"},{"q":4,"p":68,"a":"F"},{"q":4,"p":69,"a":"V"},{"q":4,"p":70,"a":"D"},{"q":4,"p":71,"a":"V"},{"q":4,"p":72,"a":"M"},{"q":4,"p":73,"a":"S"},{"q":4,"p":74,"a":"T"},{"q":4,"p":75,"a":"S"},{"q":4,"p":76,"a":"P"},{"q":4,"p":77,"a":"Y"},{"q":4,"p":78,"a":"A"},{"q":4,"p":79,"a":"H"},{"q":4,"p":80,"a":"Y"},{"q":4,"p":81,"a":"S"},{"q":4,"p":82,"a":"L"},{"q":4,"p":83,"a":"G"},{"q":4,"p":84,"a":"M"},{"q":4,"p":85,"a":"F"},{"q":4,"p":86,"a":"N"},{"q":4,"p":87,"a":"K"},{"q":4,"p":88,"a":"M"},{"q":4,"p":89,"a":"M"},{"q":4,"p":90,"a":"S"},{"q":4,"p":91,"a":"F"},{"q":4,"p":92,"a":"I"},{"q":4,"p":93,"a":"W"},{"q":4,"p":94,"a":"R"},{"q":4,"p":95,"a":"E"},{"q":4,"p":96,"a":"V"},{"q":4,"p":97,"a":"D"},{"q":4,"p":98,"a":"T"},{"q":4,"p":99,"a":"T"},{"q":4,"p":100,"a":"S"},{"q":4,"p":101,"a":"D"},{"q":4,"p":102,"a":"K"},{"q":4,"p":103,"a":"F"},{"q":4,"p":104,"a":"R"},{"q":4,"p":105,"a":"E"},{"q":4,"p":106,"a":"T"},{"q":4,"p":107,"a":"R"},{"q":4,"p":108,"a":"Q"},{"q":4,"p":109,"a":"V"},{"q":4,"p":110,"a":"F"},{"q":4,"p":111,"a":"E"},{"q":4,"p":112,"a":"R"},{"q":4,"p":113,"a":"I"},{"q":4,"p":114,"a":"S"},{"q":4,"p":115,"a":"K"},{"q":4,"p":116,"a":"T"},{"q":4,"p":117,"a":"P"},{"q":4,"p":118,"a":"E"},{"q":4,"p":119,"a":"I"},{"q":4,"p":120,"a":"R"},{"q":4,"p":121,"a":"D"},{"q":4,"p":122,"a":"Y"},{"q":4,"p":123,"a":"F"},{"q":4,"p":124,"a":"R"},{"q":4,"p":125,"a":"H"},{"q":4,"p":126,"a":"T"},{"q":4,"p":127,"a":"A"},{"q":4,"p":128,"a":"A"},{"q":4,"p":129,"a":"Q"},{"q":4,"p":130,"a":"I"},{"q":4,"p":131,"a":"V"},{"q":4,"p":132,"a":"E"},{"q":4,"p":133,"a":"L"},{"q":4,"p":134,"a":"L"},{"q":4,"p":135,"a":"R"},{"q":4,"p":136,"a":"V"},{"q":4,"p":137,"a":"P"},{"q":4,"p":138,"a":"V"},{"q":4,"p":139,"a":"N"},{"q":4,"p":140,"a":"R"},{"q":4,"p":141,"a":"S"},{"q":4,"p":142,"a":"R"},{"q":4,"p":143,"a":"L"},{"q":4,"p":144,"a":"S"},{"q":4,"p":145,"a":"K"},{"q":4,"p":146,"a":"I"},{"q":4,"p":147,"a":"I"},{"q":4,"p":148,"a":"K"},{"q":4,"p":149,"a":"A"},{"q":4,"p":150,"a":"V"},{"q":4,"p":151,"a":"Y"},{"q":4,"p":152,"a":"G"},{"q":4,"p":153,"a":"M"},{"q":4,"p":154,"a":"I"},{"q":4,"p":155,"a":"K"},{"q":4,"p":156,"a":"P"},{"q":4,"p":157,"a":"S"},{"q":4,"p":158,"a":"Q"},{"q":4,"p":159,"a":"N"},{"q":4,"p":160,"a":"E"},{"q":4,"p":161,"a":"E"},{"q":4,"p":162,"a":"L"},{"q":4,"p":163,"a":"I"},{"q":4,"p":164,"a":"K"},{"q":4,"p":165,"a":"Q"},{"q":4,"p":166,"a":"K"},{"q":4,"p":167,"a":"I"},{"q":4,"p":168,"a":"K"},{"q":4,"p":169,"a":"G"},{"q":4,"p":170,"a":"L"},{"q":4,"p":171,"a":"T"},{"q":4,"p":172,"a":"N"},{"q":4,"p":173,"a":"A"},{"q":4,"p":174,"a":"P"},{"q":4,"p":175,"a":"A"},{"q":4,"p":176,"a":"K"},{"q":4,"p":177,"a":"M"},{"q":4,"p":178,"a":"A"},{"q":4,"p":179,"a":"M"},{"q":4,"p":180,"a":"G"},{"q":4,"p":181,"a":"A"},{"q":4,"p":182,"a":"I"},{"q":4,"p":183,"a":"Q"},{"q":4,"p":184,"a":"N"},{"q":4,"p":185,"a":"V"},{"q":4,"p":186,"a":"G"},{"q":4,"p":187,"a":"R"},{"q":4,"p":188,"a":"L"},{"q":4,"p":189,"a":"F"},{"q":4,"p":190,"a":"R"},{"q":4,"p":191,"a":"N"},{"q":4,"p":192,"a":"F"}
]
},
"vconcat":[
{
"width":779,"height":129,
"layer":[
{"data":{"values":[{"x1":57,"x2":779}]},"mark":{"type":"rect","fill":"#f7f7f7"},"encoding":{"x":{"field":"x1","type":"quantitative","scale":{"domain":[0,779],"nice":false},"axis":null},"x2":{"field":"x2"},"y":{"value":2},"y2":{"value":64}}},
{"data":{"name":"cov"},"mark":{"type":"area","color":"#bababa","interpolate":"linear"},"encoding":{"x":{"field":"x","type":"quantitative","scale":{"domain":[0,779],"nice":false},"axis":null},"y":{"field":"d","type":"quantitative","stack":null,"scale":{"domain":[0,62],"range":[64,2],"nice":false},"axis":null},"detail":{"field":"seg"}}},
{"data":{"name":"introns"},"mark":{"type":"rule","color":"#000","strokeWidth":3},"encoding":{"x":{"field":"from","type":"quantitative","scale":{"domain":[0,779],"nice":false},"axis":null},"x2":{"field":"to"},"y":{"value":64}}},
{"data":{"name":"introns"},"mark":{"type":"text","fontSize":20,"font":"Liberation Sans","color":"#000","baseline":"alphabetic","align":"center"},"encoding":{"x":{"field":"mid","type":"quantitative","scale":{"domain":[0,779],"nice":false},"axis":null},"y":{"value":53},"text":{"field":"name"}}},
{"data":{"name":"exons"},"mark":{"type":"point","shape":"M0,0L1.05,-1L1.05,1Z","size":3249,"filled":true,"opacity":1,"fill":"#4f81bd","stroke":"#2f5d91","strokeWidth":1.5},"encoding":{"x":{"field":"tip","type":"quantitative","scale":{"domain":[0,779],"nice":false},"axis":null},"y":{"value":64.5}}},
{"data":{"name":"exons"},"mark":{"type":"rect","fill":"#4f81bd","stroke":"#2f5d91","strokeWidth":1.5,"clip":true},"encoding":{"x":{"field":"neck","type":"quantitative","scale":{"domain":[0,779],"nice":false},"axis":null},"x2":{"field":"end"},"y":{"value":49},"y2":{"value":80}}},
{"data":{"name":"exons"},"mark":{"type":"rect","fill":"#4f81bd","clip":true,"xOffset":-2,"x2Offset":-1.5},"encoding":{"x":{"field":"neck","type":"quantitative","scale":{"domain":[0,779],"nice":false},"axis":null},"x2":{"field":"end"},"y":{"value":50.2},"y2":{"value":78.8}}},
{"data":{"name":"exons"},"mark":{"type":"text","fontSize":20,"font":"Liberation Sans","color":"#000","baseline":"alphabetic","align":"center"},"encoding":{"x":{"field":"mid","type":"quantitative","scale":{"domain":[0,779],"nice":false},"axis":null},"y":{"value":67},"text":{"field":"name"}}},
{"data":{"name":"links"},"mark":{"type":"rule","color":"#000","strokeWidth":2.5},"encoding":{"x":{"field":"x1","type":"quantitative","scale":{"domain":[0,779],"nice":false},"axis":null},"x2":{"field":"x2"},"y":{"value":80},"y2":{"value":108}}},
{"data":{"values":[{"t":"A"}]},"mark":{"type":"text","fontSize":15,"fontWeight":"bold","font":"Liberation Sans","align":"left","baseline":"middle","color":"#000"},"encoding":{"x":{"value":4},"y":{"value":10},"text":{"field":"t"}}},
{"data":{"values":[{"t":"B"}]},"mark":{"type":"text","fontSize":18,"fontWeight":"bold","font":"Liberation Sans","align":"left","baseline":"middle","color":"#000"},"encoding":{"x":{"value":3},"y":{"value":110},"text":{"field":"t"}}}
]
},
{
"width":779,"height":179,
"layer":[
{"data":{"name":"b"},"mark":{"type":"rect","clip":true,"strokeWidth":0.6},"encoding":{
"x":{"field":"p","type":"ordinal","scale":{"domain":[70,71,72,73,74,75,76,77,78,79,80,81,82,83,84,85,86,87,88,89,90,91,92,93,94,95,96,97,98,99,100,101,102,103,104,105,106,107,108,109,110,111,112,113,114,115,116,117,118,119,120,121,122,123,124,125,126,127,128,129,130,131,132,133,134,135,136,137,138,139,140,141,142,143,144,145,146,147],"range":[32.3,785],"paddingInner":0,"paddingOuter":0},"axis":{"orient":"top","values":[70,75,80,85,90,95,100,105,110,115,120,125,130,135,140,145],"labelExpr":"datum.value % 10 === 0 ? datum.label : ''","domain":false,"grid":false,"ticks":true,"tickSize":5,"tickColor":"#000","tickWidth":1,"labelFontSize":12,"labelFont":"Liberation Sans","labelColor":"#000","labelPadding":1,"labelAngle":0,"labelOverlap":false,"labelFlush":false,"title":null}},
"y":{"field":"s","type":"ordinal","scale":{"range":[0,86],"paddingInner":0,"paddingOuter":0},"axis":null},
"fill":{"field":"a","type":"nominal","legend":null,"scale":{"domain":["A","R","N","D","C","Q","E","G","H","I","L","K","M","F","P","S","T","W","Y","V","-"],"range":["#ccff00","#0000ff","#cc00ff","#ff0000","#ffff00","#ff00cc","#ff0066","#ff9900","#0066ff","#66ff00","#33ff00","#6600ff","#00ff00","#00ff66","#ffcc00","#ff3300","#ff6600","#00ccff","#00ffcc","#99ff00","#ffffff"]}},
"stroke":{"field":"a","type":"nominal","legend":null,"scale":{"domain":["A","R","N","D","C","Q","E","G","H","I","L","K","M","F","P","S","T","W","Y","V","-"],"range":["#ccff00","#0000ff","#cc00ff","#ff0000","#ffff00","#ff00cc","#ff0066","#ff9900","#0066ff","#66ff00","#33ff00","#6600ff","#00ff00","#00ff66","#ffcc00","#ff3300","#ff6600","#00ccff","#00ffcc","#99ff00","#ffffff"]}}}},
{"data":{"name":"b"},"transform":[{"filter":"datum.p <= 146"}],"mark":{"type":"text","clip":true,"fontSize":13,"font":"Liberation Sans","baseline":"middle","align":"center"},"encoding":{"x":{"field":"p","type":"ordinal"},"y":{"field":"s","type":"ordinal"},"text":{"field":"a"},"color":{"condition":{"test":"datum.a === '-'","value":"#4d5b86"},"value":"#111111"}}},
{"data":{"name":"bl"},"mark":{"type":"rule","color":"#5a8ac6","strokeWidth":3},"encoding":{"x":{"field":"start","type":"ordinal","bandPosition":0.42},"x2":{"field":"end","bandPosition":0.7},"y":{"value":93}}},
{"data":{"values":[{}]},"mark":{"type":"rule","color":"#383838","strokeWidth":2.5},"encoding":{"y":{"value":128.5}}},
{"data":{"values":[{"t":"C"}]},"mark":{"type":"text","fontSize":18,"fontWeight":"bold","font":"Liberation Sans","align":"left","baseline":"middle","color":"#000"},"encoding":{"x":{"value":5},"y":{"value":152.5},"text":{"field":"t"}}}
]
},
{
"width":779,"height":107,
"data":{"name":"c"},
"transform":[{"filter":"datum.p >= 1 && datum.p <= 66"},{"lookup":"q","from":{"data":{"name":"names"},"key":"q","fields":["name"]}}],
"layer":[
{"mark":{"type":"rect","strokeWidth":0.6},"encoding":{
"x":{"field":"p","type":"ordinal","scale":{"domain":[1,2,3,4,5,6,7,8,9,10,11,12,13,14,15,16,17,18,19,20,21,22,23,24,25,26,27,28,29,30,31,32,33,34,35,36,37,38,39,40,41,42,43,44,45,46,47,48,49,50,51,52,53,54,55,56,57,58,59,60,61,62,63,64,65,66],"range":[143,777],"paddingInner":0,"paddingOuter":0},"axis":{"orient":"top","values":[5,10,15,20,25,30,35,40,45,50,55,60,65],"labelExpr":"datum.value % 10 === 0 ? datum.label : ''","domain":false,"grid":false,"ticks":true,"tickSize":5,"tickColor":"#000","tickWidth":1,"labelFontSize":12,"labelFont":"Liberation Sans","labelColor":"#000","labelPadding":1,"labelAngle":0,"labelOverlap":false,"labelFlush":false,"title":null}},
"y":{"field":"name","type":"nominal","sort":["Mp_O_36364_c0/1-192","Mp_F_36813_c0/1-192","MpCOO2/1-192","Mcerasi_42420/1-192"],"scale":{"range":[0,67.2],"paddingInner":0,"paddingOuter":0},"axis":{"orient":"left","domain":false,"ticks":false,"tickSize":0,"labelAlign":"left","labelPadding":-2,"labelFontStyle":"italic","labelFontSize":13,"labelFont":"Liberation Sans","labelColor":"#000","labelLimit":300,"title":null}},
"fill":{"field":"a","type":"nominal","legend":null},
"stroke":{"field":"a","type":"nominal","legend":null}}},
{"mark":{"type":"text","fontSize":13,"font":"Liberation Sans","baseline":"middle","align":"center","color":"#111111"},"encoding":{"x":{"field":"p","type":"ordinal"},"y":{"field":"name","type":"nominal","sort":["Mp_O_36364_c0/1-192","Mp_F_36813_c0/1-192","MpCOO2/1-192","Mcerasi_42420/1-192"]},"text":{"field":"a"}}},
{"data":{"name":"hl"},"transform":[{"filter":"datum.p <= 66"}],"mark":{"type":"rect","fill":null,"fillOpacity":0,"stroke":"#000","strokeWidth":1.5},"encoding":{"x":{"field":"p","type":"ordinal"},"y":{"value":-1},"y2":{"value":74}}},
{"data":{"name":"hl"},"transform":[{"filter":"datum.p <= 66"}],"mark":{"type":"text","text":"*","fontSize":20,"fontWeight":"bold","font":"Liberation Sans","baseline":"alphabetic","align":"center","color":"#000"},"encoding":{"x":{"field":"p","type":"ordinal"},"y":{"value":1.5}}},
{"data":{"values":[{"start":1,"end":7}]},"mark":{"type":"rule","color":"#5a8ac6","strokeWidth":3},"encoding":{"x":{"field":"start","type":"ordinal","bandPosition":0.15},"x2":{"field":"end","bandPosition":0.28},"y":{"value":74.3}}}
]
},
{
"width":779,"height":96,
"data":{"name":"c"},
"transform":[{"filter":"datum.p >= 67 && datum.p <= 132"},{"lookup":"q","from":{"data":{"name":"names"},"key":"q","fields":["name"]}}],
"layer":[
{"mark":{"type":"rect","strokeWidth":0.6},"encoding":{
"x":{"field":"p","type":"ordinal","scale":{"domain":[67,68,69,70,71,72,73,74,75,76,77,78,79,80,81,82,83,84,85,86,87,88,89,90,91,92,93,94,95,96,97,98,99,100,101,102,103,104,105,106,107,108,109,110,111,112,113,114,115,116,117,118,119,120,121,122,123,124,125,126,127,128,129,130,131,132],"range":[143,777],"paddingInner":0,"paddingOuter":0},"axis":{"orient":"top","values":[70,75,80,85,90,95,100,105,110,115,120,125,130],"labelExpr":"datum.value % 10 === 0 ? datum.label : ''","domain":false,"grid":false,"ticks":true,"tickSize":5,"tickColor":"#000","tickWidth":1,"labelFontSize":12,"labelFont":"Liberation Sans","labelColor":"#000","labelPadding":1,"labelAngle":0,"labelOverlap":false,"labelFlush":false,"title":null}},
"y":{"field":"name","type":"nominal","sort":["Mp_O_36364_c0/1-192","Mp_F_36813_c0/1-192","MpCOO2/1-192","Mcerasi_42420/1-192"],"scale":{"range":[0,67.2],"paddingInner":0,"paddingOuter":0},"axis":{"orient":"left","domain":false,"ticks":false,"tickSize":0,"labelAlign":"left","labelPadding":-2,"labelFontStyle":"italic","labelFontSize":13,"labelFont":"Liberation Sans","labelColor":"#000","labelLimit":300,"title":null}},
"fill":{"field":"a","type":"nominal","legend":null},
"stroke":{"field":"a","type":"nominal","legend":null}}},
{"mark":{"type":"text","fontSize":13,"font":"Liberation Sans","baseline":"middle","align":"center","color":"#111111"},"encoding":{"x":{"field":"p","type":"ordinal"},"y":{"field":"name","type":"nominal","sort":["Mp_O_36364_c0/1-192","Mp_F_36813_c0/1-192","MpCOO2/1-192","Mcerasi_42420/1-192"]},"text":{"field":"a"}}}
]
},
{
"width":779,"height":75,
"data":{"name":"c"},
"transform":[{"filter":"datum.p >= 133"},{"lookup":"q","from":{"data":{"name":"names"},"key":"q","fields":["name"]}}],
"layer":[
{"mark":{"type":"rect","strokeWidth":0.6},"encoding":{
"x":{"field":"p","type":"ordinal","scale":{"domain":[133,134,135,136,137,138,139,140,141,142,143,144,145,146,147,148,149,150,151,152,153,154,155,156,157,158,159,160,161,162,163,164,165,166,167,168,169,170,171,172,173,174,175,176,177,178,179,180,181,182,183,184,185,186,187,188,189,190,191,192],"range":[143,719.4],"paddingInner":0,"paddingOuter":0},"axis":{"orient":"top","values":[135,140,145,150,155,160,165,170,175,180,185,190],"labelExpr":"datum.value % 10 === 0 ? datum.label : ''","domain":false,"grid":false,"ticks":true,"tickSize":5,"tickColor":"#000","tickWidth":1,"labelFontSize":12,"labelFont":"Liberation Sans","labelColor":"#000","labelPadding":1,"labelAngle":0,"labelOverlap":false,"labelFlush":false,"title":null}},
"y":{"field":"name","type":"nominal","sort":["Mp_O_36364_c0/1-192","Mp_F_36813_c0/1-192","MpCOO2/1-192","Mcerasi_42420/1-192"],"scale":{"range":[0,67.2],"paddingInner":0,"paddingOuter":0},"axis":{"orient":"left","domain":false,"ticks":false,"tickSize":0,"labelAlign":"left","labelPadding":-2,"labelFontStyle":"italic","labelFontSize":13,"labelFont":"Liberation Sans","labelColor":"#000","labelLimit":300,"title":null}},
"fill":{"field":"a","type":"nominal","legend":null},
"stroke":{"field":"a","type":"nominal","legend":null}}},
{"mark":{"type":"text","fontSize":13,"font":"Liberation Sans","baseline":"middle","align":"center","color":"#111111"},"encoding":{"x":{"field":"p","type":"ordinal"},"y":{"field":"name","type":"nominal","sort":["Mp_O_36364_c0/1-192","Mp_F_36813_c0/1-192","MpCOO2/1-192","Mcerasi_42420/1-192"]},"text":{"field":"a"}}},
{"data":{"name":"hl"},"transform":[{"filter":"datum.p >= 133"}],"mark":{"type":"rect","fill":null,"fillOpacity":0,"stroke":"#000","strokeWidth":1.5},"encoding":{"x":{"field":"p","type":"ordinal"},"y":{"value":-3},"y2":{"value":74}}},
{"data":{"name":"hl"},"transform":[{"filter":"datum.p >= 133"}],"mark":{"type":"text","text":"*","fontSize":20,"fontWeight":"bold","font":"Liberation Sans","baseline":"alphabetic","align":"center","color":"#000"},"encoding":{"x":{"field":"p","type":"ordinal"},"y":{"value":-10}}}
]
}
]
}
